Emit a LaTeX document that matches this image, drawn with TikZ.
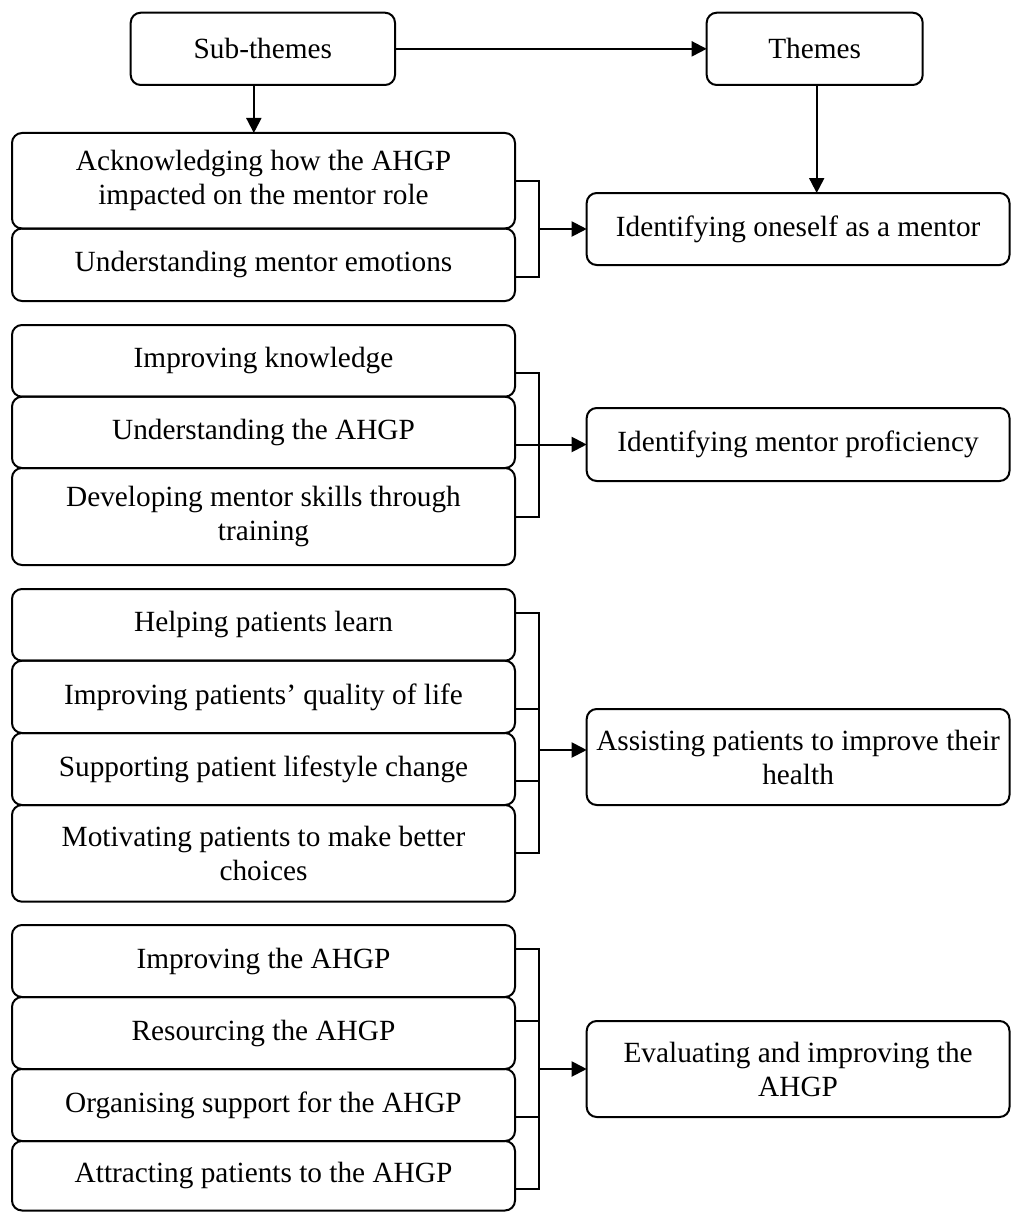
\documentclass[tikz,border=0pt]{standalone}
\usepackage{fontspec}
\setmainfont{Liberation Serif}
\usetikzlibrary{arrows.meta,calc}
\begin{document}
\begin{tikzpicture}[x=1pt,y=-1pt,
  box/.style={draw, rounded corners=10pt, line width=2pt, inner sep=0pt, outer sep=0pt, align=center, font=\fontsize{29.3}{34}\selectfont},
  subbox/.style={box, minimum width=503pt},
  themebox/.style={box, minimum width=422.8pt},
  arr/.style={line width=2pt, -{Triangle[length=15pt,width=15pt]}},
  brk/.style={line width=2pt}]
\useasboundingbox (0,0) rectangle (1011,1212);

% header
\node[box, minimum width=264.3pt, minimum height=72.3pt] (st) at (262.85,48.85) {Sub-themes};
\node[box, minimum width=216pt, minimum height=72.3pt] (th) at (814.7,48.85) {Themes};

% group 1
\node[subbox, minimum height=95.5pt] (a1) at (263.5,180.75) {Acknowledging how the AHGP\\impacted on the mentor role};
\node[subbox, minimum height=72.5pt] (a2) at (263.5,264.75) {Understanding mentor emotions};
\node[themebox, minimum height=72pt] (t1) at (798.1,229) {Identifying oneself as a mentor};

% group 2
\node[subbox, minimum height=71.7pt] (b1) at (263.5,360.85) {Improving knowledge};
\node[subbox, minimum height=71.3pt] (b2) at (263.5,432.35) {Understanding the AHGP};
\node[subbox, minimum height=97pt] (b3) at (263.5,516.5) {Developing mentor skills through\\training};
\node[themebox, minimum height=73pt] (t2) at (798.1,444.5) {Identifying mentor proficiency};

% group 3
\node[subbox, minimum height=71.7pt] (c1) at (263.5,624.85) {Helping patients learn};
\node[subbox, minimum height=72.3pt] (c2) at (263.5,696.85) {Improving patients’ quality of life};
\node[subbox, minimum height=72pt] (c3) at (263.5,769) {Supporting patient lifestyle change};
\node[subbox, minimum height=96.7pt] (c4) at (263.5,853.35) {Motivating patients to make better\\choices};
\node[themebox, minimum height=96pt] (t3) at (798.1,757) {Assisting patients to improve their\\health};

% group 4
\node[subbox, minimum height=72pt] (d1) at (263.5,961) {Improving the AHGP};
\node[subbox, minimum height=72pt] (d2) at (263.5,1033) {Resourcing the AHGP};
\node[subbox, minimum height=72pt] (d3) at (263.5,1105) {Organising support for the AHGP};
\node[subbox, minimum height=69.5pt] (d4) at (263.5,1175.75) {Attracting patients to the AHGP};
\node[themebox, minimum height=96pt] (t4) at (798.1,1069) {Evaluating and improving the\\AHGP};

\coordinate (bx) at (539,0);

% header arrows
\draw[arr] (st.east) -- (th.west);
\draw[arr] ([xshift=-9pt]st.south) -- ([xshift=-9pt]st.south |- a1.north);
\draw[arr] ([xshift=2pt]th.south) -- ([xshift=2pt]th.south |- t1.north);

% bracket 1
\draw[brk] (a1.east) -- (a1.east -| bx) -- ([yshift=-12pt]a2.east -| bx) -- ([yshift=-12pt]a2.east);
\draw[arr] (t1.west -| bx) -- (t1.west);

% bracket 2
\draw[brk] ([yshift=-12pt]b1.east) -- ([yshift=-12pt]b1.east -| bx) -- (b3.east -| bx) -- (b3.east);
\draw[arr] (b2.east |- t2.west) -- (t2.west);

% bracket 3
\draw[brk] ([yshift=12pt]c1.east) -- ([yshift=12pt]c1.east -| bx) -- (c4.east -| bx) -- (c4.east);
\draw[brk] ([yshift=-12pt]c2.east) -- ([yshift=-12pt]c2.east -| bx);
\draw[brk] ([yshift=-12pt]c3.east) -- ([yshift=-12pt]c3.east -| bx);
\draw[arr] ([yshift=7pt]t3.west -| bx) -- ([yshift=7pt]t3.west);

% bracket 4
\draw[brk] ([yshift=12pt]d1.east) -- ([yshift=12pt]d1.east -| bx) -- ([yshift=-13pt]d4.east -| bx) -- ([yshift=-13pt]d4.east);
\draw[brk] ([yshift=12pt]d2.east) -- ([yshift=12pt]d2.east -| bx);
\draw[brk] ([yshift=-12pt]d3.east) -- ([yshift=-12pt]d3.east -| bx);
\draw[arr] (t4.west -| bx) -- (t4.west);
\end{tikzpicture}
\end{document}
